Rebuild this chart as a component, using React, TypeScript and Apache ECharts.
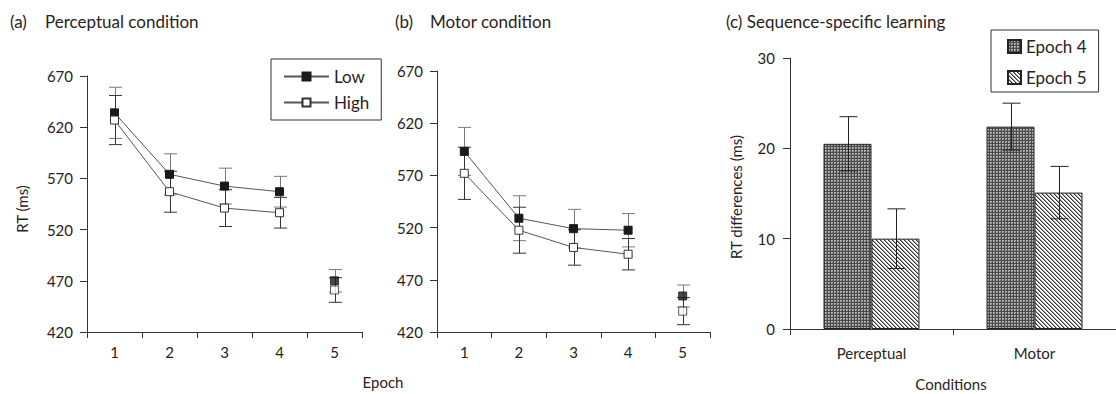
import React, { useEffect, useRef } from 'react';
import * as echarts from 'echarts';

// ---- Data ----
const epochs = ['1', '2', '3', '4', '5'];
const percLow = [634, 574, 562.5, 557, 470];
const percLowErr = [25, 20, 17.5, 15, 11];
const percHigh = [627, 557, 541, 536.5, 461];
const percHighErr = [24, 20, 18, 15, 12];
const motorLow = [593, 529, 519, 517.5, 454.5];
const motorLowErr = [23, 21.5, 18.5, 16, 10.5];
const motorHigh = [572, 517.5, 501, 494.5, 440];
const motorHighErr = [25, 22, 17, 15, 13];

const conditions = ['Perceptual', 'Motor'];
const epoch4Diff = [20.5, 22.4];
const epoch4Err = [3, 2.6];
const epoch5Diff = [10, 15.1];
const epoch5Err = [3.3, 2.9];

const FONT = 'Lato, "Open Sans", sans-serif';
const TXT = '#2a2222';
const AX = '#333';
const BAR_W = 48;

function makePattern(kind: string) {
  const c = document.createElement('canvas');
  const g = c.getContext('2d')!;
  if (kind === 'dots') {
    c.width = 3; c.height = 3;
    g.fillStyle = '#4a4a4a'; g.fillRect(0, 0, 3, 3);
    g.fillStyle = '#b0b0b0'; g.fillRect(0, 0, 2, 2);
    g.fillStyle = '#7a7a7a'; g.fillRect(1, 1, 1, 1);
  } else {
    c.width = 4; c.height = 4;
    g.fillStyle = '#fff'; g.fillRect(0, 0, 4, 4);
    for (let i = 0; i < 4; i++) {
      g.fillStyle = '#333'; g.fillRect(i, i, 1, 1);
      g.fillStyle = '#9a9a9a'; g.fillRect((i + 1) % 4, i, 1, 1);
    }
  }
  return c;
}

function errSeries(ai: number, vals: number[], errs: number[], color: string, halfCap: number, offset = 0) {
  return {
    type: 'custom',
    xAxisIndex: ai,
    yAxisIndex: ai,
    silent: true,
    z: 1,
    data: vals.map((v, i) => [i, v - errs[i], v + errs[i]]),
    encode: { x: 0, y: [1, 2] },
    renderItem: (_p: any, api: any) => {
      const lo = api.coord([api.value(0), api.value(1)]);
      const hi = api.coord([api.value(0), api.value(2)]);
      const x = Math.round(lo[0] + offset) + 0.5;
      const style = { stroke: color, lineWidth: 1 };
      return {
        type: 'group',
        children: [
          { type: 'line', shape: { x1: x, y1: lo[1], x2: x, y2: hi[1] }, style },
          { type: 'line', shape: { x1: x - halfCap, y1: lo[1], x2: x + halfCap, y2: lo[1] }, style },
          { type: 'line', shape: { x1: x - halfCap, y1: hi[1], x2: x + halfCap, y2: hi[1] }, style },
        ],
      };
    },
  };
}

const lowStyle = { color: '#1a1a1a', borderColor: '#1a1a1a', borderWidth: 1 };
const highStyle = { color: '#ffffff', borderColor: '#333', borderWidth: 1 };
const lineStyle = { color: '#555', width: 1 };

function rtSeries(ai: number, low: number[], high: number[]) {
  const firstFour = (a: number[]) => a.map((v, i) => (i < 4 ? v : '-'));
  const lastOne = (a: number[]) => a.map((v, i) => (i === 4 ? v : '-'));
  return [
    { name: 'Low', type: 'line', xAxisIndex: ai, yAxisIndex: ai, data: firstFour(low), symbol: 'rect', symbolSize: 8, showAllSymbol: true, itemStyle: lowStyle, lineStyle, z: 2 },
    { name: 'High', type: 'line', xAxisIndex: ai, yAxisIndex: ai, data: firstFour(high), symbol: 'rect', symbolSize: 8, showAllSymbol: true, itemStyle: highStyle, lineStyle, z: 3 },
    { name: 'Low', type: 'scatter', xAxisIndex: ai, yAxisIndex: ai, data: lastOne(low), symbol: 'rect', symbolSize: 8, itemStyle: lowStyle, z: 2 },
    { name: 'High', type: 'scatter', xAxisIndex: ai, yAxisIndex: ai, data: lastOne(high), symbol: 'rect', symbolSize: 8, itemStyle: highStyle, z: 3 },
  ];
}

function catAxis(gi: number, data: string[], margin: number) {
  return {
    gridIndex: gi, type: 'category', data, boundaryGap: true,
    axisLine: { lineStyle: { color: AX, width: 1 } },
    axisTick: { show: true, length: 6, lineStyle: { color: AX } },
    axisLabel: { fontSize: 15, color: TXT, margin, fontFamily: FONT },
  };
}

function valAxis(gi: number, min: number, max: number, interval: number, margin: number) {
  return {
    gridIndex: gi, type: 'value', min, max, interval,
    splitLine: { show: false },
    axisLine: { show: true, lineStyle: { color: AX, width: 1 } },
    axisTick: { show: true, length: 7, lineStyle: { color: AX } },
    axisLabel: { fontSize: 15, color: TXT, margin, fontFamily: FONT },
  };
}

function txt(text: string, x: number, y: number, opts: any = {}) {
  return {
    type: 'text', x, y, rotation: opts.rotation || 0,
    style: {
      text, fill: TXT, font: `${opts.size || 17}px ${FONT}`,
      textAlign: opts.align || 'left', textVerticalAlign: 'middle',
    },
  };
}

export default function App() {
  const ref = useRef<HTMLDivElement>(null);
  useEffect(() => {
    document.body.style.margin = '0';
    const chart = echarts.init(ref.current!, undefined, { renderer: 'svg' });
    const dots = { image: makePattern('dots'), repeat: 'repeat' };
    const hatch = { image: makePattern('hatch'), repeat: 'repeat' };
    chart.setOption({
      animation: false,
      backgroundColor: '#fff',
      textStyle: { fontFamily: FONT },
      grid: [
        { left: 87, top: 76, width: 275, height: 256 },
        { left: 437, top: 71, width: 273, height: 261 },
        { left: 790, top: 58, width: 326, height: 271 },
      ],
      xAxis: [catAxis(0, epochs, 12), catAxis(1, epochs, 12), catAxis(2, conditions, 16)],
      yAxis: [valAxis(0, 420, 670, 50, 14), valAxis(1, 420, 670, 50, 14), valAxis(2, 0, 30, 10, 15)],
      legend: [
        {
          orient: 'vertical', left: 271, top: 59, data: ['Low', 'High'], selectedMode: false,
          itemWidth: 45, itemHeight: 10, itemGap: 9, padding: [9, 12, 9, 12],
          borderColor: '#333', borderWidth: 1, backgroundColor: '#fff',
          textStyle: { fontSize: 17, color: TXT, fontFamily: FONT },
        },
        {
          orient: 'vertical', left: 991, top: 30, data: ['Epoch 4', 'Epoch 5'], selectedMode: false,
          icon: 'rect', itemWidth: 13, itemHeight: 13, itemGap: 14, padding: [8, 12, 6, 16],
          borderColor: '#333', borderWidth: 1, backgroundColor: '#fff',
          textStyle: { fontSize: 17, color: TXT, fontFamily: FONT },
        },
      ],
      series: [
        errSeries(0, percLow, percLowErr, '#7a7a7a', 6.5),
        errSeries(0, percHigh, percHighErr, '#333', 6.5),
        ...rtSeries(0, percLow, percHigh),
        errSeries(1, motorLow, motorLowErr, '#7a7a7a', 6.5),
        errSeries(1, motorHigh, motorHighErr, '#333', 6.5),
        ...rtSeries(1, motorLow, motorHigh),
        {
          name: 'Epoch 4', type: 'bar', xAxisIndex: 2, yAxisIndex: 2, data: epoch4Diff,
          barWidth: BAR_W, barGap: '0%',
          itemStyle: { color: dots, borderColor: '#222', borderWidth: 1 },
        },
        {
          name: 'Epoch 5', type: 'bar', xAxisIndex: 2, yAxisIndex: 2, data: epoch5Diff,
          barWidth: BAR_W, barGap: '0%',
          itemStyle: { color: hatch, borderColor: '#222', borderWidth: 1 },
        },
        { ...errSeries(2, epoch4Diff, epoch4Err, '#222', 9, -BAR_W / 2), z: 5 },
        { ...errSeries(2, epoch5Diff, epoch5Err, '#222', 9, BAR_W / 2), z: 5 },
      ],
      graphic: [
        txt('(a)', 10, 21),
        txt('Perceptual condition', 45, 21),
        txt('(b)', 395, 21),
        txt('Motor condition', 430, 21),
        txt('(c) Sequence-specific learning', 726, 21),
        txt('RT (ms)', 22, 209, { rotation: Math.PI / 2, align: 'center', size: 15 }),
        txt('Epoch', 383, 382, { align: 'center', size: 15 }),
        txt('RT differences (ms)', 736, 197, { rotation: Math.PI / 2, align: 'center', size: 15 }),
        txt('Conditions', 951, 384, { align: 'center', size: 15 }),
      ],
    });
    return () => chart.dispose();
  }, []);
  return <div ref={ref} style={{ width: 1116, height: 394 }} />;
}
